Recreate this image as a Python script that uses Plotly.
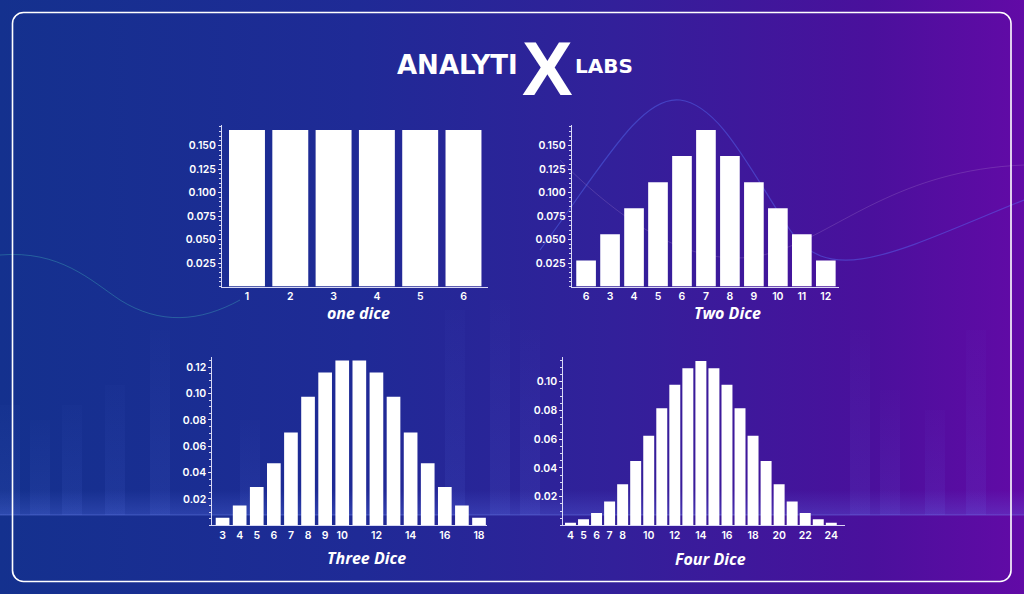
import base64
import plotly.graph_objects as go

# ---------------- data ----------------
one_x = [1, 2, 3, 4, 5, 6]
one_p = [0.1667, 0.1667, 0.1667, 0.1667, 0.1667, 0.1667]
one_ticks = [1, 2, 3, 4, 5, 6]
one_ticktext = ["1", "2", "3", "4", "5", "6"]

two_x = [2, 3, 4, 5, 6, 7, 8, 9, 10, 11, 12]
two_p = [0.0278, 0.0556, 0.0833, 0.1111, 0.1389, 0.1667, 0.1389, 0.1111, 0.0833, 0.0556, 0.0278]
two_ticks = [2, 3, 4, 5, 6, 7, 8, 9, 10, 11, 12]
two_ticktext = ["6", "3", "4", "5", "6", "7", "8", "9", "10", "11", "12"]

three_x = [3, 4, 5, 6, 7, 8, 9, 10, 11, 12, 13, 14, 15, 16, 17, 18]
three_p = [0.0058, 0.0150, 0.0290, 0.0472, 0.0705, 0.0975, 0.1160, 0.1252,
           0.1252, 0.1160, 0.0975, 0.0705, 0.0472, 0.0290, 0.0150, 0.0058]
three_ticks = [3, 4, 5, 6, 7, 8, 9, 10, 12, 14, 16, 18]
three_ticktext = ["3", "4", "5", "6", "7", "8", "9", "10", "12", "14", "16", "18"]

four_x = list(range(4, 25))
four_p = [0.0019, 0.0042, 0.0086, 0.0167, 0.0286, 0.0448, 0.0624, 0.0815, 0.0979, 0.1093, 0.1144,
          0.1093, 0.0979, 0.0815, 0.0624, 0.0448, 0.0286, 0.0167, 0.0086, 0.0042, 0.0019]
four_ticks = [4, 5, 6, 7, 8, 10, 12, 14, 16, 18, 20, 22, 24]
four_ticktext = ["4", "5", "6", "7", "8", "10", "12", "14", "16", "18", "20", "22", "24"]

y_ticks_a = [0.025, 0.050, 0.075, 0.100, 0.125, 0.150]
y_ticktext_a = ["0.025", "0.050", "0.075", "0.100", "0.125", "0.150"]
y_ticks_b3 = [0.02, 0.04, 0.06, 0.08, 0.10, 0.12]
y_ticktext_b3 = ["0.02", "0.04", "0.06", "0.08", "0.10", "0.12"]
y_ticks_b4 = [0.02, 0.04, 0.06, 0.08, 0.10]
y_ticktext_b4 = ["0.02", "0.04", "0.06", "0.08", "0.10"]

titles = ["one dice", "Two Dice", "Three Dice", "Four Dice"]

# ---------------- background (gradient + border) ----------------
svg = '''<svg xmlns="http://www.w3.org/2000/svg" width="1024" height="594" viewBox="0 0 1024 594" preserveAspectRatio="none">
<defs>
<linearGradient id="g" x1="0" y1="0" x2="1" y2="0">
<stop offset="0" stop-color="#14318e"/>
<stop offset="0.35" stop-color="#1f2a96"/>
<stop offset="0.6" stop-color="#32209a"/>
<stop offset="0.85" stop-color="#4a109c"/>
<stop offset="1" stop-color="#620aa6"/>
</linearGradient>
<linearGradient id="fb" x1="0" y1="0" x2="0" y2="1">
<stop offset="0" stop-color="#6f8cff" stop-opacity="0.02"/>
<stop offset="1" stop-color="#6f8cff" stop-opacity="0.09"/>
</linearGradient>
<linearGradient id="hz" x1="0" y1="0" x2="0" y2="1">
<stop offset="0" stop-color="#6a86ff" stop-opacity="0"/>
<stop offset="1" stop-color="#6a86ff" stop-opacity="0.22"/>
</linearGradient>
</defs>
<rect width="1024" height="594" fill="url(#g)"/>
<g fill="url(#fb)">
<rect x="0" y="405" width="20" height="110"/><rect x="30" y="420" width="20" height="95"/>
<rect x="62" y="405" width="20" height="110"/><rect x="105" y="385" width="20" height="130"/>
<rect x="150" y="330" width="20" height="185"/><rect x="240" y="420" width="20" height="95"/>
<rect x="445" y="310" width="20" height="205"/><rect x="490" y="300" width="20" height="215"/>
<rect x="520" y="330" width="20" height="185"/><rect x="850" y="330" width="20" height="185"/>
<rect x="880" y="390" width="20" height="125"/><rect x="925" y="410" width="20" height="105"/>
<rect x="966" y="330" width="20" height="185"/>
</g>
<rect x="0" y="490" width="1024" height="25" fill="url(#hz)"/>
<line x1="0" y1="515" x2="1024" y2="515" stroke="#7f96ff" stroke-opacity="0.35" stroke-width="1"/>
<path d="M0,255 C60,250 90,280 120,300 C160,325 200,322 240,300" fill="none" stroke="#4bd0c0" stroke-opacity="0.3" stroke-width="1"/>
<path d="M540,250 C600,170 640,95 680,100 C720,105 750,170 790,230 C830,290 900,250 1024,200" fill="none" stroke="#5a78ff" stroke-opacity="0.4" stroke-width="1.2"/>
<path d="M560,160 C620,220 700,280 780,250 C840,230 900,170 1024,165" fill="none" stroke="#b08ad0" stroke-opacity="0.25" stroke-width="1"/>
<rect x="12.5" y="12.5" width="998.5" height="569" rx="11" ry="11" fill="none" stroke="#ffffff" stroke-width="1.6"/>
</svg>'''
svg_uri = "data:image/svg+xml;base64," + base64.b64encode(svg.encode("utf-8")).decode("ascii")

fig = go.Figure()

BAR = "#ffffff"
fig.add_trace(go.Bar(x=one_x, y=one_p, width=0.83, marker=dict(color=BAR, line=dict(width=0)),
                     xaxis="x", yaxis="y", showlegend=False))
fig.add_trace(go.Bar(x=two_x, y=two_p, width=0.82, marker=dict(color=BAR, line=dict(width=0)),
                     xaxis="x2", yaxis="y2", showlegend=False))
fig.add_trace(go.Bar(x=three_x, y=three_p, width=0.8, marker=dict(color=BAR, line=dict(width=0)),
                     xaxis="x3", yaxis="y3", showlegend=False))
fig.add_trace(go.Bar(x=four_x, y=four_p, width=0.84, marker=dict(color=BAR, line=dict(width=0)),
                     xaxis="x4", yaxis="y4", showlegend=False))

W, H = 1024, 594
TICKFONT = dict(family="Inter, Open Sans, sans-serif", size=10.5, color="#ffffff", weight=600)
AXLINE = "rgba(235,235,255,0.9)"


def xax(x0, x1, rng, vals, text, anchor):
    return dict(domain=[x0 / W, x1 / W], range=rng, anchor=anchor, showline=True, linecolor=AXLINE,
                linewidth=1, showgrid=False, zeroline=False, tickmode="array", tickvals=vals,
                ticktext=text, ticks="", tickfont=TICKFONT, fixedrange=True)


def yax(top, bottom, rng, vals, text, anchor, minor_dt):
    return dict(domain=[(H - bottom) / H, (H - top) / H], range=rng, anchor=anchor, showline=True,
                linecolor=AXLINE, linewidth=1, showgrid=False, zeroline=False, tickmode="array",
                tickvals=vals, ticktext=text, ticks="outside", ticklen=3, tickcolor=AXLINE,
                minor=dict(ticks="outside", ticklen=2, dtick=minor_dt, tickcolor=AXLINE, showgrid=False),
                tickfont=TICKFONT, fixedrange=True)


fig.update_layout(
    width=W, height=H, margin=dict(l=0, r=0, t=0, b=0),
    paper_bgcolor="#2a2296", plot_bgcolor="rgba(0,0,0,0)",
    bargap=0.15,
    xaxis=xax(222, 488, [0.423, 6.566], one_ticks, one_ticktext, "y"),
    yaxis=yax(125, 286.5, [0, 0.172], y_ticks_a, y_ticktext_a, "x", 0.005),
    xaxis2=xax(571.7, 839, [1.40, 12.55], two_ticks, two_ticktext, "y2"),
    yaxis2=yax(125, 286.5, [0, 0.172], y_ticks_a, y_ticktext_a, "x2", 0.005),
    xaxis3=xax(212.3, 486.7, [2.40, 18.45], three_ticks, three_ticktext, "y3"),
    yaxis3=yax(356.7, 525.3, [0, 0.128], y_ticks_b3, y_ticktext_b3, "x3", 0.005),
    xaxis4=xax(563.3, 845, [3.45, 25.05], four_ticks, four_ticktext, "y4"),
    yaxis4=yax(356.7, 525.4, [0, 0.1174], y_ticks_b4, y_ticktext_b4, "x4", 0.005),
    images=[dict(source=svg_uri, xref="paper", yref="paper", x=0, y=1, sizex=1, sizey=1,
                 sizing="stretch", xanchor="left", yanchor="top", layer="below")],
)

TITLEFONT = dict(family="Open Sans, Inter, sans-serif", size=16, color="#ffffff", weight=700, style="italic")
title_pos = [(358.5, 313), (727, 313), (366.5, 558), (710, 559)]
for t, (px, py) in zip(titles, title_pos):
    fig.add_annotation(text=t, x=px / W, y=(H - py) / H, xref="paper", yref="paper",
                       showarrow=False, font=TITLEFONT, xanchor="center", yanchor="middle")

# logo
LOGO = dict(family="DejaVu Sans, sans-serif", color="#ffffff", weight=700)
fig.add_annotation(text="ANALYTI", x=520 / W, y=(H - 65) / H, xref="paper", yref="paper",
                   showarrow=False, xanchor="right", yanchor="middle", font=dict(size=26, **LOGO))
fig.add_annotation(text="X", x=547 / W, y=(H - 69) / H, xref="paper", yref="paper",
                   showarrow=False, xanchor="center", yanchor="middle",
                   font=dict(size=76, family="Liberation Sans, sans-serif", color="#ffffff", weight=700))
fig.add_annotation(text="LABS", x=573 / W, y=(H - 66.5) / H, xref="paper", yref="paper",
                   showarrow=False, xanchor="left", yanchor="middle", font=dict(size=20, **LOGO))

fig.write_html("out.html")
